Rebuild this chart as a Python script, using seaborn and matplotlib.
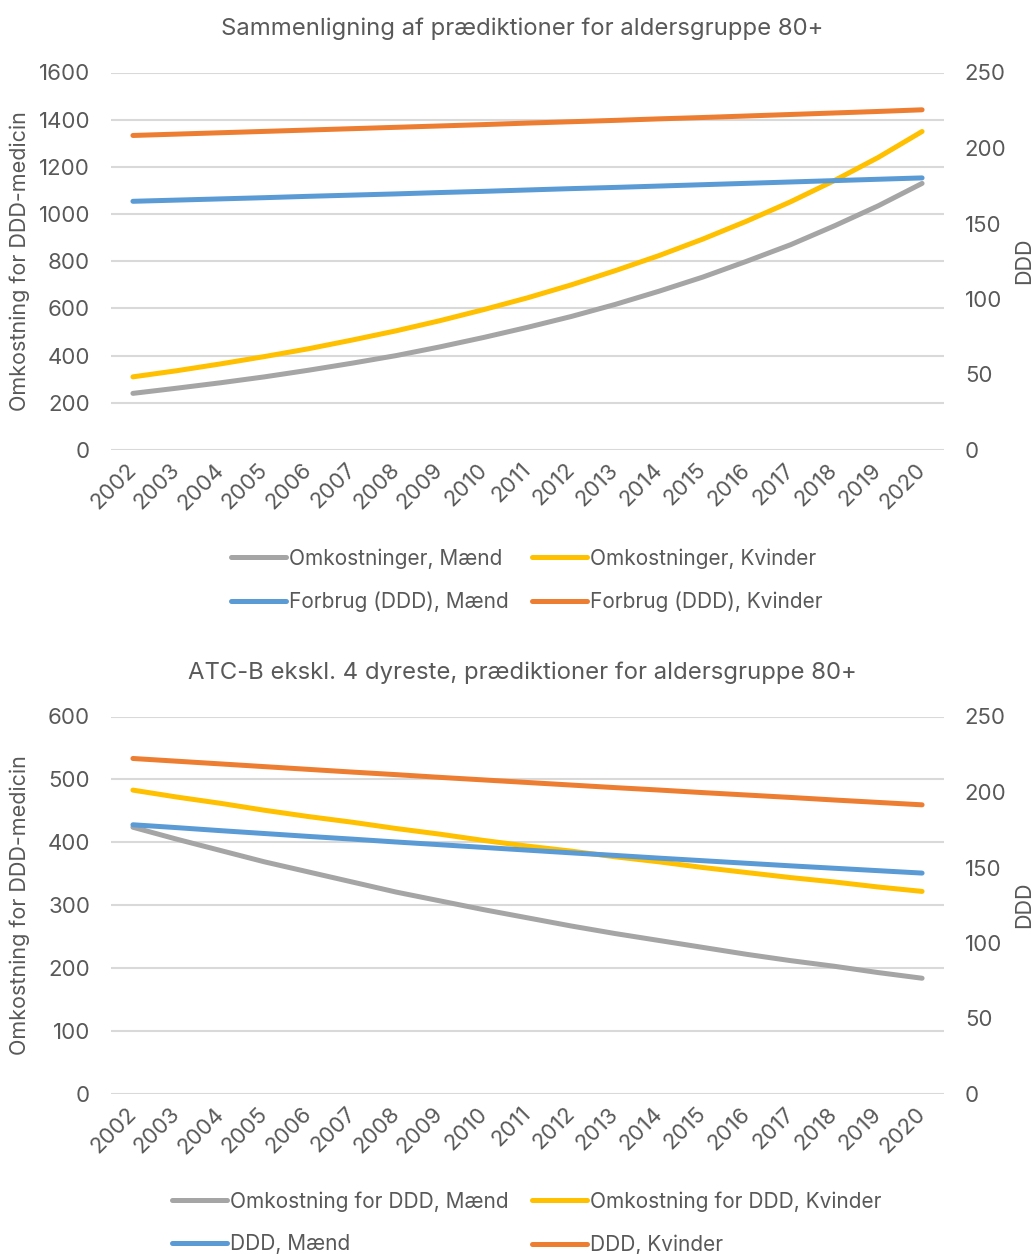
import matplotlib
matplotlib.use("Agg")
import matplotlib.pyplot as plt
from matplotlib.lines import Line2D
import seaborn as sns
import numpy as np

sns.set_theme(style="white")
plt.rcParams["font.family"] = ["Inter", "DejaVu Sans"]

TEXT = "#595959"
GRID = "#D9D9D9"
C_GRAY = "#A5A5A5"
C_YELLOW = "#FFC000"
C_BLUE = "#5B9BD5"
C_ORANGE = "#ED7D31"

years = [str(y) for y in range(2002, 2021)]

# Chart 1: costs (left axis) and consumption in DDD (right axis), age 80+
cost_men_1 = [240, 262, 285, 310, 338, 368, 400, 437, 477, 520, 566, 617, 673, 733, 800, 870, 950, 1035, 1130]
cost_women_1 = [310, 336, 365, 396, 429, 466, 505, 548, 595, 645, 700, 760, 824, 894, 970, 1052, 1142, 1240, 1350]
ddd_men_1 = [164.7, 165.5, 166.3, 167.1, 168.0, 168.8, 169.6, 170.5, 171.3, 172.2, 173.1, 173.9, 174.8, 175.7, 176.6, 177.5, 178.4, 179.3, 180.2]
ddd_women_1 = [208.3, 209.2, 210.1, 211.0, 211.9, 212.8, 213.7, 214.6, 215.5, 216.5, 217.4, 218.3, 219.3, 220.2, 221.2, 222.2, 223.2, 224.2, 225.3]

# Chart 2: ATC-B excl. the 4 most expensive, age 80+
cost_men_2 = [424, 405, 387, 369, 353, 337, 321, 307, 293, 280, 267, 255, 244, 233, 222, 212, 203, 193, 184]
cost_women_2 = [483, 472, 462, 451, 441, 432, 422, 413, 403, 394, 386, 377, 369, 360, 352, 344, 337, 329, 322]
ddd_men_2 = [178.3, 176.4, 174.4, 172.5, 170.6, 168.8, 166.9, 165.1, 163.3, 161.5, 159.7, 158.0, 156.2, 154.5, 152.8, 151.1, 149.5, 147.9, 146.3]
ddd_women_2 = [222.2, 220.4, 218.6, 216.8, 215.0, 213.2, 211.5, 209.7, 208.0, 206.3, 204.6, 202.9, 201.3, 199.6, 198.0, 196.4, 194.7, 193.1, 191.5]

W, H = 1035, 1254
fig = plt.figure(figsize=(W / 100, H / 100), dpi=100)
LW = 3.6
TICK_FS = 16
LABEL_FS = 15.5
TITLE_FS = 17.2
LEGEND_FS = 15
PLOT_L, PLOT_R = 111, 944


def px_axes(left, top, right, bottom):
    return fig.add_axes([left / W, 1 - bottom / H, (right - left) / W, (bottom - top) / H])


def draw_chart(ax, title, left_series, right_series, left_max, left_step,
               labels, legend_y):
    x = np.arange(len(years))
    ax2 = ax.twinx()
    for vals, col in left_series:
        sns.lineplot(x=x, y=vals, ax=ax, color=col, linewidth=LW,
                     solid_capstyle="round", legend=False)
    for vals, col in right_series:
        sns.lineplot(x=x, y=vals, ax=ax2, color=col, linewidth=LW,
                     solid_capstyle="round", legend=False)

    ax.set_xlim(-0.5, len(years) - 0.5)
    ax.set_ylim(0, left_max)
    ax.set_yticks(np.arange(0, left_max + 1, left_step))
    ax2.set_ylim(0, 250)
    ax2.set_yticks(np.arange(0, 251, 50))

    ax.grid(axis="y", color=GRID, linewidth=1.5)
    ax.grid(axis="x", visible=False)
    ax2.grid(False)
    for a in (ax, ax2):
        for s in a.spines.values():
            s.set_visible(False)
        a.tick_params(length=0, labelsize=TICK_FS, labelcolor=TEXT)
    ax.tick_params(axis="y", pad=15)
    ax2.tick_params(axis="y", pad=15)

    ax.set_xticks(x)
    ax.set_xticklabels(years, rotation=45, ha="right", va="center",
                       rotation_mode="anchor")
    ax.tick_params(axis="x", pad=12)

    span = PLOT_R - PLOT_L
    ax.set_ylabel("Omkostning for DDD-medicin", fontsize=LABEL_FS, color=TEXT)
    ax.yaxis.label.set_ha("center")
    ax.yaxis.label.set_va("center")
    ax.yaxis.set_label_coords((20 - PLOT_L) / span, 0.5)
    ax2.set_ylabel("DDD", fontsize=LABEL_FS, color=TEXT, rotation=90)
    ax2.yaxis.label.set_ha("center")
    ax2.yaxis.label.set_va("center")
    ax2.yaxis.set_label_coords((1024 - PLOT_L) / span, 0.5)

    ax.set_title(title, fontsize=TITLE_FS, color=TEXT, pad=27,
                 x=(522.5 - PLOT_L) / span)

    # legend entries laid out row by row: costs on the first row, DDD on the second
    entries = [(left_series[0][1], labels[0]), (right_series[0][1], labels[2]),
               (left_series[1][1], labels[1]), (right_series[1][1], labels[3])]
    handles = [Line2D([0], [0], color=c, linewidth=LW, solid_capstyle="round")
               for c, _ in entries]
    leg = fig.legend(handles, [t for _, t in entries], ncol=2, loc="center",
                     bbox_to_anchor=(527 / W, 1 - legend_y / H), frameon=False,
                     fontsize=LEGEND_FS, handlelength=2.64, handletextpad=0.15,
                     columnspacing=1.1, labelspacing=1.1)
    for t in leg.get_texts():
        t.set_color(TEXT)
    return ax2


ax_top = px_axes(PLOT_L, 72.5, PLOT_R, 450)
draw_chart(ax_top, "Sammenligning af prædiktioner for aldersgruppe 80+",
           [(cost_men_1, C_GRAY), (cost_women_1, C_YELLOW)],
           [(ddd_men_1, C_BLUE), (ddd_women_1, C_ORANGE)],
           1600, 200,
           ["Omkostninger, Mænd", "Omkostninger, Kvinder",
            "Forbrug (DDD), Mænd", "Forbrug (DDD), Kvinder"],
           580)

ax_bot = px_axes(PLOT_L, 716.5, PLOT_R, 1094)
draw_chart(ax_bot, "ATC-B ekskl. 4 dyreste, prædiktioner for aldersgruppe 80+",
           [(cost_men_2, C_GRAY), (cost_women_2, C_YELLOW)],
           [(ddd_men_2, C_BLUE), (ddd_women_2, C_ORANGE)],
           600, 100,
           ["Omkostning for DDD, Mænd", "Omkostning for DDD, Kvinder",
            "DDD, Mænd", "DDD, Kvinder"],
           1223)

fig.savefig("out.png", dpi=100, facecolor="white")
